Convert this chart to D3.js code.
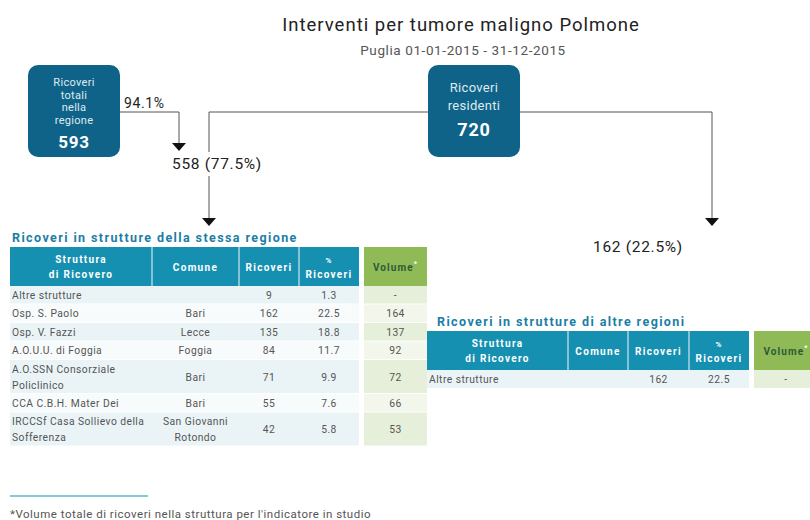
<!DOCTYPE html>
<html><head><meta charset="utf-8">
<script src="https://cdn.jsdelivr.net/npm/d3@7"></script>
<style>
body{margin:0;background:#fff;}
svg{display:block;font-family:Roboto,"Noto Sans",sans-serif;}
</style></head>
<body>
<svg id="c" width="810" height="520"></svg>
<script>
// ---- data ----
const title = "Interventi per tumore maligno Polmone";
const subtitle = "Puglia 01-01-2015 - 31-12-2015";
const totRegione = 593;
const pctTotRegione = "94.1%";
const residenti = 720;
const stessaRegione = 558, pctStessa = "77.5%";
const altreRegioni = 162, pctAltre = "22.5%";

const headers = [["Struttura","di Ricovero"],["Comune"],["Ricoveri"],["%","Ricoveri"]];
// table 1: same region
const t1Strutture = [["Altre strutture"],["Osp. S. Paolo"],["Osp. V. Fazzi"],["A.O.U.U. di Foggia"],["A.O.SSN Consorziale","Policlinico"],["CCA C.B.H. Mater Dei"],["IRCCSf Casa Sollievo della","Sofferenza"]];
const t1Comune = [[""],["Bari"],["Lecce"],["Foggia"],["Bari"],["Bari"],["San Giovanni","Rotondo"]];
const t1Ricoveri = [9,162,135,84,71,55,42];
const t1Pct = ["1.3","22.5","18.8","11.7","9.9","7.6","5.8"];
const t1Volume = ["-","164","137","92","72","66","53"];
// table 2: other regions
const t2Strutture = [["Altre strutture"]];
const t2Comune = [[""]];
const t2Ricoveri = [162];
const t2Pct = ["22.5"];
const t2Volume = ["-"];
const footnote = "*Volume totale di ricoveri nella struttura per l'indicatore in studio";

// ---- drawing ----
const svg = d3.select("#c");
const BOX = "#0f6388", HEAD = "#1690b0", GREEN = "#8fba55", TTL = "#1a7ea6", TXT = "#555";

svg.append("text").attr("x",461).attr("y",31).attr("text-anchor","middle")
  .attr("font-size",18.5).attr("fill","#222").attr("letter-spacing",1).text(title);
svg.append("text").attr("x",463).attr("y",55).attr("text-anchor","middle")
  .attr("font-size",13.5).attr("fill","#555").attr("letter-spacing",0.6).text(subtitle);

// connector lines
const line = svg.append("g").attr("fill","none").attr("stroke","#555").attr("stroke-width",1);
line.append("path").attr("d","M120,112H179V143");
line.append("path").attr("d","M428,112H209V218");
line.append("path").attr("d","M520,112H712V218");
function arrow(x,y){
  svg.append("path").attr("d",`M${x-7},${y}H${x+7}L${x},${y+8}Z`).attr("fill","#111");
}
arrow(179,143); arrow(209,218); arrow(712,218);

// boxes
function box(x,y,lines,val,ys,vy,fs,vfs){
  const g = svg.append("g");
  g.append("rect").attr("x",x).attr("y",y).attr("width",92).attr("height",92).attr("rx",10).attr("fill",BOX);
  lines.forEach((l,i)=>g.append("text").attr("x",x+46).attr("y",ys[i]).attr("text-anchor","middle")
    .attr("font-size",fs).attr("letter-spacing",0.3).attr("fill","#dfeaf0").text(l));
  g.append("text").attr("x",x+46).attr("y",vy).attr("text-anchor","middle").attr("font-size",vfs)
    .attr("font-weight","bold").attr("fill","#fff").attr("letter-spacing",0.8).text(val);
}
box(28,65,["Ricoveri","totali","nella","regione"],totRegione,[86,98.5,111,123.5],148,11,17);
box(428,65,["Ricoveri","residenti"],residenti,[92,110],136,13,18);

svg.append("text").attr("x",124).attr("y",108).attr("font-size",14).attr("letter-spacing",0.6).attr("fill","#222").text(pctTotRegione);
svg.append("rect").attr("x",170).attr("y",152).attr("width",98).attr("height",24).attr("fill","#fff");
svg.append("text").attr("x",172).attr("y",169).attr("font-size",15.5).attr("letter-spacing",0.7).attr("fill","#222").text(`${stessaRegione} (${pctStessa})`);
svg.append("text").attr("x",638).attr("y",252).attr("text-anchor","middle").attr("font-size",15.5).attr("letter-spacing",0.7).attr("fill","#222").text(`${altreRegioni} (${pctAltre})`);

// tables
function table(opts){
  const {titleX,titleY,titleText,colEdges,volX,volW,headY,headH,rowH,str,com,ric,pct,vol} = opts;
  const g = svg.append("g");
  g.append("text").attr("x",titleX).attr("y",titleY).attr("font-size",12.5).attr("font-weight","bold")
    .attr("letter-spacing",1.4).attr("fill",TTL).text(titleText);
  // header
  g.append("rect").attr("x",colEdges[0]).attr("y",headY).attr("width",colEdges[4]-colEdges[0]).attr("height",headH).attr("fill",HEAD);
  colEdges.slice(1,4).forEach(e=>g.append("line").attr("x1",e).attr("x2",e).attr("y1",headY).attr("y2",headY+headH).attr("stroke","#cfe6ee").attr("stroke-width",1.2));
  headers.forEach((h,i)=>{
    const cx = (colEdges[i]+colEdges[i+1])/2;
    h.forEach((t,j)=>g.append("text").attr("x",cx).attr("y",headY+headH/2+4+(j-(h.length-1)/2)*15)
      .attr("text-anchor","middle").attr("font-size",t==="%"?8:10).attr("font-weight","bold").attr("letter-spacing",1.3)
      .attr("fill","#fff").text(t));
  });
  g.append("rect").attr("x",volX).attr("y",headY).attr("width",volW).attr("height",headH).attr("fill",GREEN);
  const vt = g.append("text").attr("x",volX+volW/2).attr("y",headY+headH/2+4).attr("text-anchor","middle")
    .attr("font-size",10).attr("font-weight","bold").attr("letter-spacing",1.1).attr("fill","#2d5a3c");
  vt.append("tspan").text("Volume");
  vt.append("tspan").attr("dy",-5).attr("font-size",7).attr("fill","#fff").text("*");
  // rows
  let y = headY+headH;
  str.forEach((s,i)=>{
    const h = (s.length>1||com[i].length>1)?rowH[1]:rowH[0];
    const odd = i%2===0;
    g.append("rect").attr("x",colEdges[0]).attr("y",y).attr("width",colEdges[4]-colEdges[0]).attr("height",h-1)
      .attr("fill",odd?"#eaf4f7":"#f8fbfc");
    g.append("rect").attr("x",volX).attr("y",y).attr("width",volW).attr("height",h-1)
      .attr("fill",odd?"#e6efd9":"#f2f6eb");
    const cy = y+h/2+3.5;
    const cell = (lines,cx,anchor)=>lines.forEach((t,j)=>g.append("text").attr("x",cx)
      .attr("y",cy+(j-(lines.length-1)/2)*16).attr("text-anchor",anchor).attr("font-size",10.3)
      .attr("letter-spacing",0.45).attr("fill",TXT).text(t));
    cell(s,colEdges[0]+2,"start");
    cell(com[i],(colEdges[1]+colEdges[2])/2,"middle");
    cell([String(ric[i])],(colEdges[2]+colEdges[3])/2,"middle");
    cell([pct[i]],(colEdges[3]+colEdges[4])/2,"middle");
    cell([vol[i]],volX+volW/2,"middle");
    y += h;
  });
}
table({titleX:12,titleY:242,titleText:"Ricoveri in strutture della stessa regione",colEdges:[10,152,239,299,359],
  volX:364,volW:63,headY:247,headH:39,rowH:[18.5,34],str:t1Strutture,com:t1Comune,ric:t1Ricoveri,pct:t1Pct,vol:t1Volume});
table({titleX:437,titleY:326,titleText:"Ricoveri in strutture di altre regioni",colEdges:[427,568,628,689,749],
  volX:754,volW:64,headY:331,headH:39,rowH:[19,34],str:t2Strutture,com:t2Comune,ric:t2Ricoveri,pct:t2Pct,vol:t2Volume});

// footnote
svg.append("line").attr("x1",10).attr("x2",148).attr("y1",496).attr("y2",496).attr("stroke","#80cbd9").attr("stroke-width",2);
svg.append("text").attr("x",10).attr("y",518).attr("font-size",11.5).attr("letter-spacing",0.5).attr("fill",TXT).text(footnote);
</script>
</body></html>
